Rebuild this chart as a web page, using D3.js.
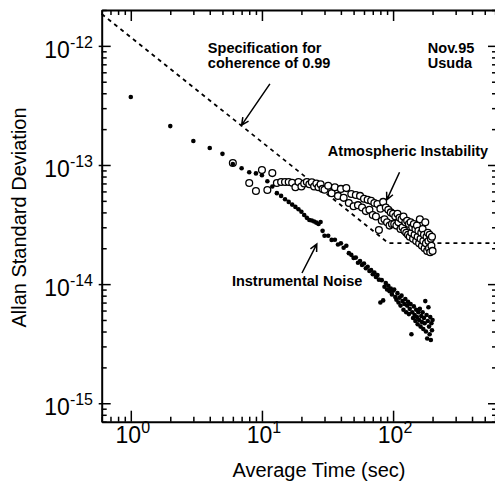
<!DOCTYPE html>
<html>
<head>
<meta charset="utf-8">
<script src="https://cdn.jsdelivr.net/npm/d3@7"></script>
<style>
body { margin: 0; background: #fff; }
svg { display: block; font-family: "Liberation Sans", Arial, Helvetica, sans-serif; }
</style>
</head>
<body>
<div id="chart"></div>
<script>
// averaging time (sec), shared by both series
var tau = [1, 2, 3, 4, 5, 6, 7, 8, 9, 10, 11, 12, 13, 14, 15, 16, 17, 18, 19, 20,
    21, 22, 23, 24, 25, 26, 27, 28, 29, 30,
    32, 34, 36, 38, 40, 42, 44, 46, 48, 50, 52, 54, 56, 58, 60, 62, 64, 66, 68, 70,
    72, 74, 76, 78, 80, 82, 84, 86, 88, 90, 92, 94, 96, 98, 100,
    102, 104, 106, 108, 110, 112, 114, 116, 118, 120, 122, 124, 126, 128, 130,
    132, 134, 136, 138, 140, 142, 144, 146, 148, 150, 152, 154, 156, 158, 160,
    162, 164, 166, 168, 170, 172, 174, 176, 178, 180, 182, 184, 186, 188, 190,
    192, 194, 196, 198, 200];

// Allan std deviation, in units of 1e-14
var noiseSigma = [37.2, 21.2, 15.9, 13.9, 12.4, 10.2, 9.4, 8.7, 8.5, 8.2, 7.3, 6.6, 5.8, 5.5, 5.15, 4.9, 4.65, 4.45, 4.25, 4.05,
    3.8, 3.6, 3.45, 3.42, 3.35, 3.28, 3.2, 3.32, 2.8, 2.55,
    2.55, 2.35, 2.36, 2.15, 2.2, 2.02, 2.1, 1.82, 1.76, 1.66, 1.67, 1.51, 1.56, 1.45, 1.49, 1.36, 1.40, 1.29, 1.31, 1.21,
    1.25, 1.15, 1.19, 1.09, 0.70, 1.08, 0.73, 0.95, 1.02, 0.90, 0.97, 0.87, 0.92, 0.82, 0.88,
    0.90, 0.78, 0.74, 0.84, 0.70, 0.77, 0.66, 0.80, 0.72, 0.61, 0.68, 0.75, 0.58, 0.66, 0.71,
    0.56, 0.62, 0.68, 0.38, 0.58, 0.52, 0.65, 0.55, 0.49, 0.61, 0.53, 0.46, 0.58, 0.50, 0.62,
    0.44, 0.54, 0.48, 0.58, 0.42, 0.52, 0.47, 0.72, 0.40, 0.55, 0.35, 0.49, 0.64, 0.44, 0.38,
    0.53, 0.34, 0.47, 0.41, 0.50];

var atmosSigma = [null, null, null, null, null, 10.4, null, 7.06, 6.04, 9.07, 6.17, 8.55, 7.06, 7.19, 7.2, 7.2, 7.1, 6.5, 7.2, 6.6,
    7.0, 7.2, 6.9, 7.15, 6.6, 7.0, 6.5, 6.9, 6.3, 6.2,
    6.7, 5.8, 6.5, 5.5, 6.3, 5.3, 6.4, 4.8, 5.7, 4.5, 5.6, 4.6, 5.5, 4.4, 5.2, 4.1, 5.1, 4.2, 5.0, 3.8,
    4.8, 3.7, 4.7, 2.85, 4.3, 3.4, 4.9, 3.5, 4.4, 3.3, 4.2, 3.1, 4.0, 3.2, 3.9,
    3.2, 3.7, 3.1, 3.9, 3.3, 3.6, 2.9, 3.5, 3.0, 3.7, 2.8, 3.3, 2.7, 3.4, 2.6,
    3.2, 2.5, 3.3, 2.7, 3.0, 2.4, 3.2, 2.6, 2.9, 2.3, 3.1, 2.5, 2.8, 2.2, 3.5,
    2.4, 2.7, 2.1, 2.9, 2.3, 2.6, 2.0, 3.3, 2.2, 2.5, 1.9, 2.7, 2.3, 2.0, 2.6,
    1.85, 2.4, 2.1, 2.5, 1.9];

// specification for coherence of 0.99 (dashed)
var specTau = [0.6, 92, 620];
var specSigma = [185, 2.21, 2.21];

var xTickExp = [0, 1, 2];
var yTickExp = [-15, -14, -13, -12];

var unit = 1e-14;

var width = 495, height = 485;
var plot = {left: 101.7, right: 497, top: 10, bottom: 421.7};

var svg = d3.select("#chart").append("svg")
    .attr("width", width)
    .attr("height", height);

var x = d3.scaleLog().domain([0.6, 620]).range([plot.left, plot.right]);
var y = d3.scaleLog().domain([7e-16, 2e-12]).range([plot.bottom, plot.top]);

function isMajor(d) {
    var l = Math.log10(d);
    return Math.abs(l - Math.round(l)) < 1e-6;
}

// axes on all four sides, ticks pointing inward
function styleAxis(g) {
    g.select(".domain").attr("stroke", "#000").attr("stroke-width", 2);
    g.selectAll(".tick line").attr("stroke", "#000").attr("stroke-width", 1.5);
}

svg.append("g")
    .attr("transform", "translate(0," + plot.bottom + ")")
    .call(d3.axisBottom(x).tickValues(x.ticks()).tickSizeOuter(0).tickFormat(""))
    .call(styleAxis)
    .selectAll(".tick line").attr("y2", function (d) { return isMajor(d) ? -11 : -5; });

svg.append("g")
    .attr("transform", "translate(0," + plot.top + ")")
    .call(d3.axisTop(x).tickValues(x.ticks()).tickSizeOuter(0).tickFormat(""))
    .call(styleAxis)
    .selectAll(".tick line").attr("y2", function (d) { return isMajor(d) ? 11 : 5; });

svg.append("g")
    .attr("transform", "translate(" + plot.left + ",0)")
    .call(d3.axisLeft(y).tickValues(y.ticks()).tickSizeOuter(0).tickFormat(""))
    .call(styleAxis)
    .selectAll(".tick line")
    .attr("x1", function (d) { return isMajor(d) ? -3 : 0; })
    .attr("x2", function (d) { return isMajor(d) ? 9 : 5; });

svg.append("g")
    .attr("transform", "translate(" + plot.right + ",0)")
    .call(d3.axisRight(y).tickValues(y.ticks()).tickSizeOuter(0).tickFormat(""))
    .call(styleAxis)
    .selectAll(".tick line").attr("x2", function (d) { return isMajor(d) ? -9 : -5; });

// tick labels 10^n
svg.selectAll(".xlab")
    .data(xTickExp)
    .enter().append("text")
    .attr("class", "xlab")
    .attr("x", function (d) { return x(Math.pow(10, d)) + 2; })
    .attr("y", 443)
    .attr("text-anchor", "middle")
    .attr("font-size", 23)
    .each(function (d) {
        var t = d3.select(this);
        t.append("tspan").text("10");
        t.append("tspan").attr("dy", -10).attr("font-size", 16).text(d);
    });

svg.selectAll(".ylab")
    .data(yTickExp)
    .enter().append("text")
    .attr("class", "ylab")
    .attr("x", 93)
    .attr("y", function (d) { return y(Math.pow(10, d)) + 12; })
    .attr("text-anchor", "end")
    .attr("font-size", 23)
    .each(function (d) {
        var t = d3.select(this);
        t.append("tspan").text("10");
        t.append("tspan").attr("dy", -10).attr("font-size", 16).text("-" + Math.abs(d));
    });

// axis titles
svg.append("text")
    .attr("x", 319)
    .attr("y", 477)
    .attr("text-anchor", "middle")
    .attr("font-size", 20)
    .text("Average Time (sec)");

svg.append("text")
    .attr("transform", "translate(26,217.5) rotate(-90)")
    .attr("text-anchor", "middle")
    .attr("font-size", 20)
    .text("Allan Standard Deviation");

var area = svg.append("g");

// spec line
var spec = specTau.map(function (t, i) { return [t, specSigma[i] * unit]; });
area.append("path")
    .datum(spec)
    .attr("fill", "none")
    .attr("stroke", "#000")
    .attr("stroke-width", 1.8)
    .attr("stroke-dasharray", "4,4")
    .attr("d", d3.line()
        .x(function (d) { return x(d[0]); })
        .y(function (d) { return y(d[1]); }));

// atmospheric instability: open circles
var atmos = tau.map(function (t, i) { return [t, atmosSigma[i]]; })
    .filter(function (d) { return d[1] != null; });
area.append("g").selectAll("circle")
    .data(atmos)
    .enter().append("circle")
    .attr("cx", function (d) { return x(d[0]); })
    .attr("cy", function (d) { return y(d[1] * unit); })
    .attr("r", 3.4)
    .attr("fill", "#fff")
    .attr("stroke", "#000")
    .attr("stroke-width", 1.3);

// instrumental noise: filled dots
var noise = tau.map(function (t, i) { return [t, noiseSigma[i]]; });
area.append("g").selectAll("circle")
    .data(noise)
    .enter().append("circle")
    .attr("cx", function (d) { return x(d[0]); })
    .attr("cy", function (d) { return y(d[1] * unit); })
    .attr("r", 2.3)
    .attr("fill", "#000");

// annotations
function label(lines, tx, sy) {
    var t = svg.append("text")
        .attr("x", x(tx))
        .attr("y", y(sy))
        .attr("font-size", 14.5)
        .attr("font-weight", "bold");
    lines.forEach(function (s, i) {
        t.append("tspan").attr("x", x(tx)).attr("dy", i === 0 ? 0 : 15).text(s);
    });
}

function arrow(t0, s0, t1, s1) {
    var x0 = x(t0), y0 = y(s0), x1 = x(t1), y1 = y(s1);
    var a = Math.atan2(y1 - y0, x1 - x0), len = 8, spread = 0.45;
    svg.append("path")
        .attr("fill", "none")
        .attr("stroke", "#000")
        .attr("stroke-width", 1.5)
        .attr("d", "M" + x0 + "," + y0 + "L" + x1 + "," + y1 +
            "M" + (x1 - len * Math.cos(a - spread)) + "," + (y1 - len * Math.sin(a - spread)) +
            "L" + x1 + "," + y1 +
            "L" + (x1 - len * Math.cos(a + spread)) + "," + (y1 - len * Math.sin(a + spread)));
}

label(["Specification for", "coherence of 0.99"], 3.87, 8.7e-13);
label(["Nov.95", "Usuda"], 184, 8.7e-13);
label(["Atmospheric Instability"], 31.8, 1.19e-13);
label(["Instrumental Noise"], 5.9, 9.6e-15);

arrow(11.5, 4.8e-13, 7.0, 2.16e-13);
arrow(112, 8.7e-14, 89.5, 5.1e-14);
arrow(20.2, 1.24e-14, 26.2, 2.17e-14);
</script>
</body>
</html>
